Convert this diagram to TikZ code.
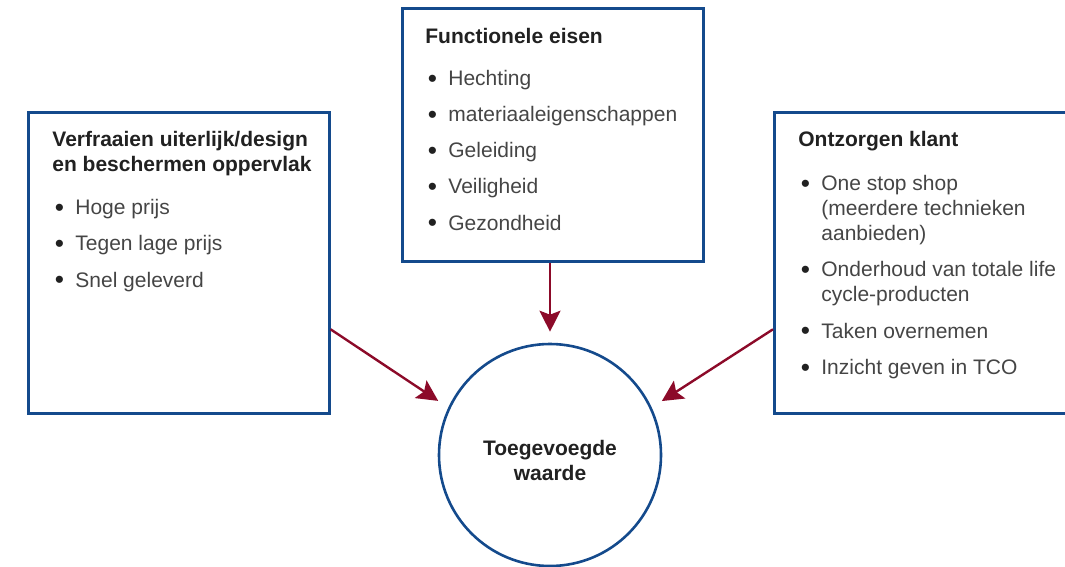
\documentclass[tikz,border=0pt]{standalone}
\usepackage{fontspec}
\setmainfont{Liberation Sans}
\usetikzlibrary{positioning}
\usetikzlibrary{arrows.meta}
\definecolor{Waarde1}{rgb}{.08,.29,.55}
\definecolor{Waarde2}{rgb}{.55,.04,.16}
\definecolor{Waarde3}{rgb}{.13,.13,.13}
\definecolor{Waarde4}{rgb}{.27,.27,.27}
\newcommand{\bulitem}{\makebox[11.5pt][l]{\hspace{1.2pt}\raisebox{-0.9pt}{\textcolor{Waarde3}{\scalebox{1.25}{\textbullet}}}}}
\newcommand{\contline}{\hspace*{11.5pt}}

\begin{document}
\begin{tikzpicture}[x=0.5pt, y=-0.5pt,
    kader/.style={rectangle, draw=Waarde1, line width=1.3pt, anchor=north west, minimum width=150.5pt, inner sep=0pt},
    lijst/.style={anchor=base west, inner sep=0pt, font=\fontsize{10.5}{12.5}\selectfont, text=Waarde4},
    pijl/.style={draw=Waarde2, line width=1.2pt, -{Stealth[length=10.5pt,width=10.5pt,inset=2pt]}}]
  \useasboundingbox (0,0) rectangle (1065,567);
  %
  % boxes
  \node [kader, minimum height=150.5pt] (design) at (27,111) {};
  \node [kader, minimum height=126.5pt] (eisen) at (401,7) {};
  \node [kader, minimum height=150.5pt] (klant) at (773,111) {};
  \node [circle, draw=Waarde1, line width=1.3pt, minimum size=111pt, inner sep=0pt] (waarde) at (550,455) {};
  %
  % texts
  \node [lijst] (designtekst) at (52,146.7) {%
    \begin{tabular}[t]{@{}l@{}}
      \textcolor{Waarde3}{\bfseries Verfraaien uiterlijk/design}\\
      \textcolor{Waarde3}{\bfseries en beschermen oppervlak}\\[9pt]
      \bulitem Hoge prijs\\[5.6pt]
      \bulitem Tegen lage prijs\\[5.6pt]
      \bulitem Snel geleverd
    \end{tabular}};
  %
  \node [lijst] (eisentekst) at (425,43.3) {%
    \begin{tabular}[t]{@{}l@{}}
      \textcolor{Waarde3}{\bfseries Functionele eisen}\\[8.5pt]
      \bulitem Hechting\\[5.6pt]
      \bulitem materiaaleigenschappen\\[5.6pt]
      \bulitem Geleiding\\[5.6pt]
      \bulitem Veiligheid\\[5.6pt]
      \bulitem Gezondheid
    \end{tabular}};
  %
  \node [lijst] (klanttekst) at (798,146.7) {%
    \begin{tabular}[t]{@{}l@{}}
      \textcolor{Waarde3}{\bfseries Ontzorgen klant}\\[9.5pt]
      \bulitem One stop shop\\
      \contline (meerdere technieken\\
      \contline aanbieden)\\[5.6pt]
      \bulitem Onderhoud van totale life\\
      \contline cycle-producten\\[5.6pt]
      \bulitem Taken overnemen\\[5.6pt]
      \bulitem Inzicht geven in TCO
    \end{tabular}};
  %
  \node [lijst, anchor=base, text=Waarde3, font=\fontsize{10.5}{12.5}\selectfont\bfseries] (waardetekst) at (550,455) {%
    \begin{tabular}[t]{@{}c@{}}
      Toegevoegde\\
      waarde
    \end{tabular}};
  %
  % arrows
  \draw [pijl, shorten >=6pt] ([yshift=-33.25pt]design.east) -- (waarde.155);
  \draw [pijl, shorten >=5.5pt] (waarde.north |- eisen.south) -- (waarde.north);
  \draw [pijl, shorten >=6pt] ([yshift=-33.25pt]klant.west) -- (waarde.25);
\end{tikzpicture}
\end{document}
